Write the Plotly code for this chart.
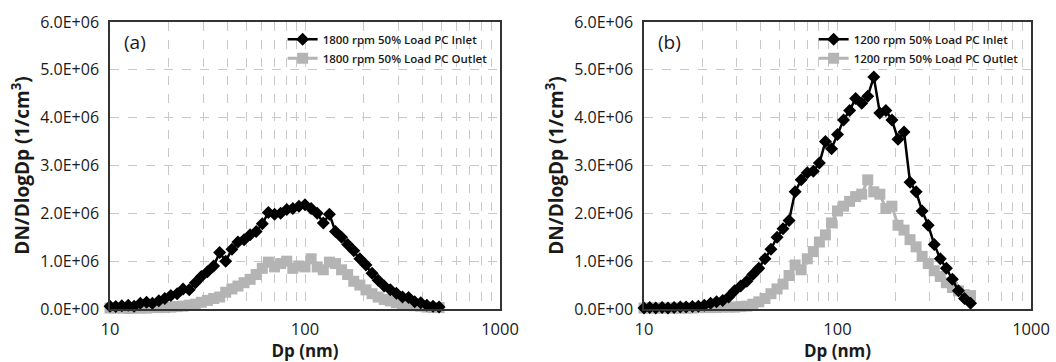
import plotly.graph_objects as go

dp_nm = [10.0, 10.7, 11.5, 12.4, 13.3, 14.3, 15.4, 16.5, 17.8, 19.1, 20.5, 22.1, 23.7, 25.5,
         27.4, 29.4, 31.6, 34.0, 36.5, 39.2, 42.2, 45.3, 48.7, 52.3, 56.2, 60.4, 64.9, 69.8,
         75.0, 80.6, 86.6, 93.1, 100.0, 107.5, 115.5, 124.1, 133.4, 143.3, 154.0, 165.5,
         177.8, 191.1, 205.4, 220.7, 237.1, 254.8, 273.8, 294.3, 316.2, 339.8, 365.2, 392.4,
         421.7, 453.2, 487.0]

# values in units of 1E6 particles/cm3
a_inlet = [0.06, 0.05, 0.07, 0.08, 0.06, 0.12, 0.14, 0.12, 0.17, 0.22, 0.28, 0.32, 0.42, 0.40,
           0.55, 0.68, 0.78, 0.90, 1.18, 1.00, 1.25, 1.40, 1.45, 1.55, 1.62, 1.78, 2.02, 1.98,
           2.00, 2.08, 2.10, 2.15, 2.18, 2.10, 2.00, 1.80, 1.98, 1.62, 1.50, 1.35, 1.22, 1.05,
           0.92, 0.75, 0.60, 0.48, 0.40, 0.33, 0.25, 0.24, 0.15, 0.13, 0.08, 0.06, 0.04]
a_outlet = [0.02, 0.02, 0.02, 0.01, 0.02, 0.02, 0.02, 0.03, 0.03, 0.03, 0.04, 0.05, 0.06, 0.08,
            0.10, 0.14, 0.18, 0.22, 0.25, 0.35, 0.42, 0.48, 0.55, 0.62, 0.72, 0.85, 0.98, 0.88,
            0.95, 1.00, 0.85, 0.90, 0.88, 1.05, 0.88, 0.82, 0.98, 0.95, 0.82, 0.72, 0.58, 0.50,
            0.40, 0.32, 0.25, 0.20, 0.17, 0.13, 0.11, 0.08, 0.07, 0.06, 0.04, 0.03, 0.03]
b_inlet = [0.02, 0.03, 0.02, 0.03, 0.02, 0.03, 0.04, 0.04, 0.05, 0.06, 0.08, 0.12, 0.15, 0.18,
           0.25, 0.38, 0.48, 0.58, 0.72, 0.85, 1.05, 1.25, 1.50, 1.68, 1.85, 2.45, 2.70, 2.85,
           2.88, 3.05, 3.50, 3.35, 3.65, 3.95, 4.15, 4.40, 4.30, 4.45, 4.85, 4.10, 4.15, 3.95,
           3.55, 3.70, 2.65, 2.45, 2.05, 1.75, 1.35, 1.05, 0.85, 0.62, 0.38, 0.22, 0.12]
b_outlet = [0.02, 0.02, 0.02, 0.02, 0.02, 0.02, 0.02, 0.02, 0.02, 0.03, 0.03, 0.03, 0.03, 0.04,
            0.04, 0.04, 0.05, 0.06, 0.10, 0.15, 0.22, 0.32, 0.42, 0.52, 0.70, 0.92, 0.82, 1.05,
            1.20, 1.40, 1.55, 1.80, 2.05, 2.15, 2.25, 2.35, 2.40, 2.70, 2.45, 2.40, 2.10, 2.15,
            1.75, 1.65, 1.45, 1.30, 1.10, 0.95, 0.80, 0.68, 0.55, 0.45, 0.38, 0.30, 0.28]

y_tick_vals = [0, 1e6, 2e6, 3e6, 4e6, 5e6, 6e6]
y_tick_text = ["0.0E+00", "1.0E+06", "2.0E+06", "3.0E+06", "4.0E+06", "5.0E+06", "6.0E+06"]
x_tick_vals = [10, 100, 1000]
x_tick_text = ["10", "100", "1000"]

names_a = ["1800 rpm 50% Load PC Inlet", "1800 rpm 50% Load PC Outlet"]
names_b = ["1200 rpm 50% Load PC Inlet", "1200 rpm 50% Load PC Outlet"]
panel_labels = ["(a)", "(b)"]

FONT = "Open Sans, Liberation Sans, Arial"
BLACK = "#000000"
GREY = "#b4b4b4"
TXT = "#1a1a1a"

fig = go.Figure()


def scale(v):
    return [x * 1e6 for x in v]


panels = [
    ("x", "y", "legend", names_a, a_inlet, a_outlet),
    ("x2", "y2", "legend2", names_b, b_inlet, b_outlet),
]
for xa, ya, lg, names, inl, outl in panels:
    fig.add_trace(go.Scatter(
        x=dp_nm, y=scale(outl), name=names[1], xaxis=xa, yaxis=ya, legend=lg,
        mode="lines+markers", cliponaxis=False,
        line=dict(color=GREY, width=3),
        marker=dict(symbol="square", size=11, color=GREY),
        legendrank=2,
    ))
    fig.add_trace(go.Scatter(
        x=dp_nm, y=scale(inl), name=names[0], xaxis=xa, yaxis=ya, legend=lg,
        mode="lines+markers", cliponaxis=False,
        line=dict(color=BLACK, width=2.5),
        marker=dict(symbol="diamond", size=10, color=BLACK),
        legendrank=1,
    ))

W, H = 1056, 362
L, R, T, B = 110, 25, 22, 53
pw = W - L - R
dom_a = [0, (500 - L) / pw]
dom_b = [(644 - L) / pw, 1.0]

grid = dict(showgrid=True, gridcolor="#c8c8c8", griddash="dash", gridwidth=1, automargin=False)
xcommon = dict(type="log", range=[1, 3], tickvals=x_tick_vals, ticktext=x_tick_text,
               tickfont=dict(family=FONT, size=16.5, color=TXT),
               minor=dict(showgrid=True, gridcolor="#c8c8c8", griddash="dash", gridwidth=1,
                          dtick="D1"),
               showline=True, linecolor="#333", linewidth=1.5, mirror=True, ticks="",
               ticklabelstandoff=4,
               title=dict(text="<b>Dp (nm)</b>", font=dict(family=FONT, size=17, color=TXT),
                          standoff=0),
               zeroline=False, **grid)
ycommon = dict(range=[0, 6e6], tickvals=y_tick_vals, ticktext=y_tick_text,
               tickfont=dict(family=FONT, size=16, color=TXT),
               showline=True, linecolor="#333", linewidth=1.5, mirror=True, ticks="",
               ticklabelstandoff=6,
               title=dict(text="<b>DN/DlogDp (1/cm<sup>3</sup>)</b>",
                          font=dict(family=FONT, size=19, color=TXT), standoff=6),
               zeroline=False, **grid)

legend_style = dict(yanchor="top", xanchor="right", y=0.99,
                    bgcolor="rgba(0,0,0,0)",
                    font=dict(family=FONT, size=11.5, color=TXT, weight=600),
                    itemwidth=30, tracegroupgap=0, traceorder="normal")

fig.update_layout(
    width=W, height=H,
    margin=dict(l=L, r=R, t=T, b=B, autoexpand=False),
    paper_bgcolor="white", plot_bgcolor="white",
    xaxis=dict(domain=dom_a, anchor="y", **xcommon),
    yaxis=dict(domain=[0, 1], anchor="x", **ycommon),
    xaxis2=dict(domain=dom_b, anchor="y2", **xcommon),
    yaxis2=dict(domain=[0, 1], anchor="x2", **ycommon),
    legend=dict(x=dom_a[1] - 0.008, **legend_style),
    legend2=dict(x=dom_b[1] - 0.008, **legend_style),
    showlegend=True,
)

fig.add_annotation(text=panel_labels[0], xref="x domain", yref="y domain", x=0.03, y=0.93,
                   xanchor="left", yanchor="middle", showarrow=False,
                   font=dict(family=FONT, size=19, color=TXT))
fig.add_annotation(text=panel_labels[1], xref="x2 domain", yref="y2 domain", x=0.03, y=0.93,
                   xanchor="left", yanchor="middle", showarrow=False,
                   font=dict(family=FONT, size=19, color=TXT))

fig.write_html("out.html", config={"displayModeBar": False},
               post_script="document.body.style.margin='0';")
